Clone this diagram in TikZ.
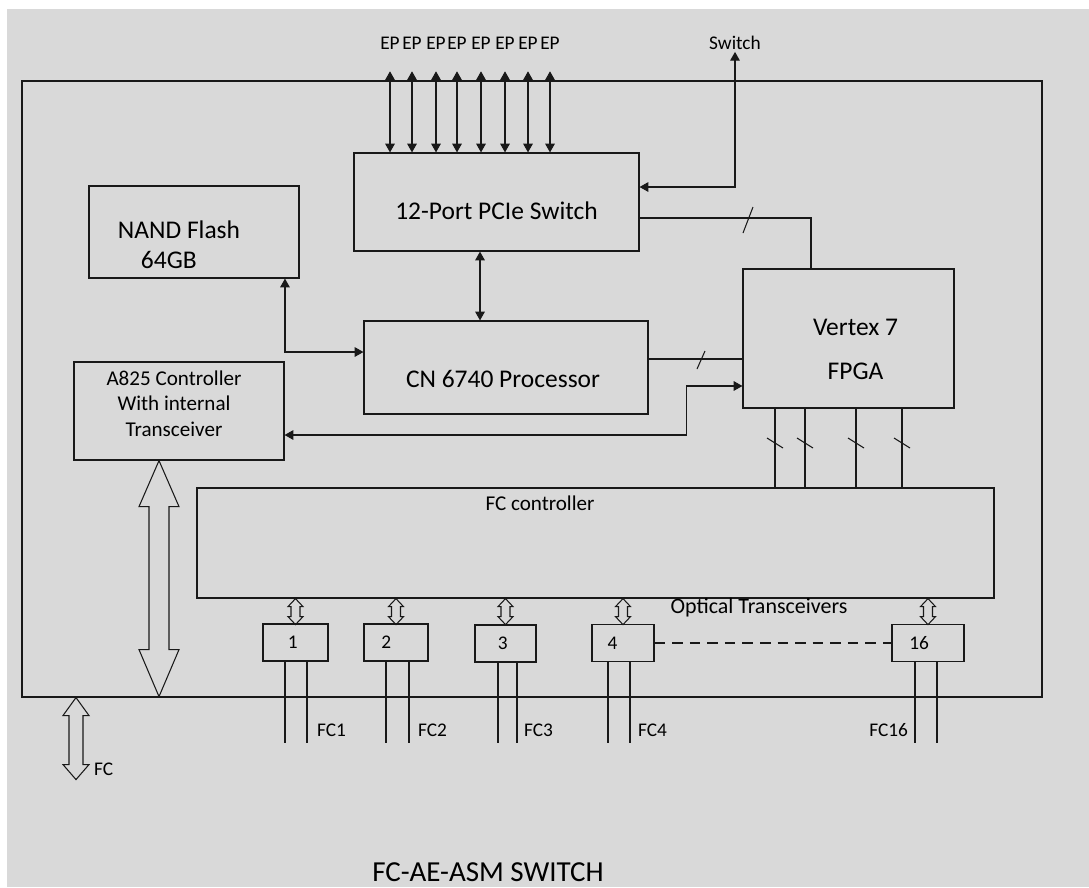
\documentclass[tikz,border=0pt]{standalone}
\usepackage{fontspec}
\setmainfont{Carlito}
\usetikzlibrary{arrows.meta}
\definecolor{cpanel}{RGB}{217,217,217}
\definecolor{cline}{RGB}{25,25,25}

\begin{document}
\begin{tikzpicture}[x=0.02cm, y=-0.02cm,
  >={Triangle[length=5pt,width=5.5pt]},
  blk/.style={draw=cline, line width=0.7pt, inner sep=0pt},
  txt/.style={align=center, inner sep=1pt, font=\fontsize{14.5}{17}\selectfont},
  trx/.style={draw=cline, line width=0.7pt, inner sep=1pt,
              minimum height=0.74cm, font=\fontsize{11}{13}\selectfont},
  lab/.style={inner sep=1pt, font=\fontsize{11}{13}\selectfont},
  ln/.style={cline, line width=0.6pt},
  ar/.style={<->, cline, line width=0.6pt},
  hollow/.style={draw=cline, line width=0.6pt, line join=miter},
]
\fill[white] (0,0) rectangle (1089,887);
\fill[cpanel] (7,9) rectangle (1089,887);
\useasboundingbox (0,0) rectangle (1089,887);

% --- board and main blocks ----------------------------------------------
\node[draw=cline, line width=0.7pt, minimum width=20.4cm, minimum height=12.32cm]
  (board) at (532,389) {};
\node[blk, minimum width=5.7cm, minimum height=1.96cm] (pcie) at (496.5,202) {};
\node[txt] (pcietxt) at ([yshift=-0.18cm]pcie.center) {12-Port PCIe Switch};
\node[blk, minimum width=4.2cm, minimum height=1.84cm] (nand) at (194,232) {};
\node[txt] (nandtxt) at ([xshift=-0.3cm,yshift=-0.25cm]nand.center)
  {NAND Flash\\64GB\kern0.8em};
\node[blk, minimum width=5.68cm, minimum height=1.86cm] (cn) at (506,367.5) {};
\node[txt] (cntxt) at ([xshift=-0.06cm,yshift=-0.23cm]cn.center)
  {CN 6740 Processor};
\node[blk, minimum width=4.22cm, minimum height=2.78cm] (fpga) at (848.5,338.5) {};
\node[txt] (fpgatxt) at ([xshift=0.14cm,yshift=-0.22cm]fpga.center)
  {Vertex 7\\[8pt]FPGA};
\node[blk, minimum width=4.2cm, minimum height=1.96cm] (a825) at (179,411) {};
\node[txt, font=\fontsize{12}{14.5}\selectfont] (a825txt)
  at ([xshift=-0.1cm,yshift=0.15cm]a825.center)
  {A825 Controller\\With internal\\Transceiver};
\node[blk, minimum width=15.94cm, minimum height=2.2cm] (fcc) at (595.5,543) {};
\node[lab, font=\fontsize{12}{14}\selectfont] (fcclab) at (540,503) {FC controller};

% --- optical transceivers ------------------------------------------------
\node[trx, minimum width=1.3cm] (t1) at (295.5,642.5) {1\kern3pt};
\node[trx, minimum width=1.28cm] (t2) at (396,642.5) {2\kern11pt};
\node[trx, minimum width=1.22cm] (t3) at (505.5,643.5) {3\kern3pt};
\node[trx, minimum width=1.24cm] (t4) at (623,643) {4\kern12pt};
\node[trx, minimum width=1.44cm] (t16) at (928,643) {16\kern10pt};
\node[lab, font=\fontsize{12.5}{14}\selectfont] (optlab) at (759,608)
  {Optical Transceivers};
\draw[ln, dash pattern=on 6pt off 4pt] (t4.east) -- (t16.west);

% --- endpoints and uplink ------------------------------------------------
\foreach \i/\x in {1/390,2/412,3/436,4/457,5/481,6/505,7/528,8/550} {
  \node[lab] (ep\i) at (\x,43) {EP};
  \draw[ar, shorten <=0.4cm] (ep\i.south) -- (ep\i.south |- pcie.north);
}
\node[lab] (sw) at (735,43) {Switch};
\draw[ar] ([yshift=0.3cm]pcie.east) -| (sw.south);

% --- links between blocks ------------------------------------------------
\draw[ln] ([yshift=-0.32cm]pcie.east) -| ([xshift=-0.75cm]fpga.north);
\draw[ln] (743,233) -- (753,207);
\draw[ln] ([yshift=0.17cm]cn.east) -- ([yshift=0.17cm]cn.east -| fpga.west);
\draw[ln] (697,369) -- (705,351);
\draw[ar] ([xshift=-0.33cm]pcie.south) -- ([xshift=-0.33cm]pcie.south |- cn.north);
\draw[ar] ([xshift=1.82cm]nand.south) |- ([yshift=0.31cm]cn.west);
\draw[ar] ([yshift=-0.48cm]a825.east) -- ++(402,0) |- ([yshift=-0.95cm]fpga.west);
\foreach \x in {775,805,856,902} {
  \draw[ln] (fpga.south -| \x,0) -- (fcc.north -| \x,0);
  \draw[ln] (\x,443) ++(-8,-5) -- ++(16,10);
}

% --- hollow double arrows ------------------------------------------------
\draw[hollow] ([xshift=-0.4cm]a825.south) -- ++(20,46) -- ++(-10,0) -- ++(0,143)
  -- ++(10,0) -- ++(-20,47) -- ++(-20,-47) -- ++(10,0) -- ++(0,-143)
  -- ++(-10,0) -- cycle;
\foreach \t in {t1,t2,t3,t4,t16}
  \draw[hollow] (\t.north |- fcc.south) -- ++(7.5,8) -- ++(-3,0) -- ++(0,10)
    -- ++(3,0) -- ++(-7.5,8) -- ++(-7.5,-8) -- ++(3,0) -- ++(0,-10)
    -- ++(-3,0) -- cycle;
\draw[hollow] (board.south -| 76,0) -- ++(13,18) -- ++(-6,0) -- ++(0,49)
  -- ++(6,0) -- ++(-13,15) -- ++(-13,-15) -- ++(6,0) -- ++(0,-49)
  -- ++(-6,0) -- cycle;
\node[lab, anchor=west] (fcin) at (92,769) {FC};

% --- fibres leaving the board --------------------------------------------
\foreach \t/\a/\b in {t1/285/307,t2/386/409,t3/498/517,t4/608/630,t16/915/937} {
  \draw[ln] (\t.south -| \a,0) -- (\a,743);
  \draw[ln] (\t.south -| \b,0) -- (\b,743);
}
\node[lab, anchor=west] (fc1) at (315,730) {FC1};
\node[lab, anchor=west] (fc2) at (416,730) {FC2};
\node[lab, anchor=west] (fc3) at (522,730) {FC3};
\node[lab, anchor=west] (fc4) at (636,730) {FC4};
\node[lab, anchor=east] (fc16) at (910,730) {FC16};

\node[font=\fontsize{16.5}{19}\selectfont] (title) at (488,872) {FC-AE-ASM SWITCH};
\end{tikzpicture}
\end{document}
